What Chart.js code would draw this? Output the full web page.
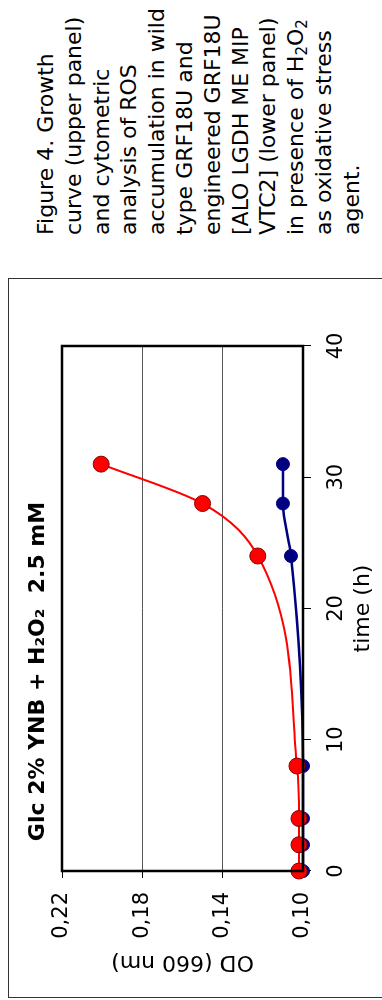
<!DOCTYPE html>
<html>
<head>
<meta charset="utf-8">
<script src="https://cdn.jsdelivr.net/npm/chart.js@4.4.0/dist/chart.umd.min.js"></script>
<style>
  html, body { margin: 0; padding: 0; background: #fff; overflow: hidden; }
  /* la página original está girada 90° a la izquierda */
  #page {
    position: absolute; left: 0; top: 0;
    width: 1000px; height: 382px;
    transform-origin: 0 0;
    transform: translateY(1000px) rotate(-90deg);
  }
  #frame {
    position: absolute; left: 2px; top: 8px;
    width: 720px; height: 390px;
    border: 1px solid #333; box-sizing: border-box;
  }
  #growthChart { position: absolute; left: 0; top: 0; }
  #caption {
    position: absolute; left: 765px; top: 32px;
    font-family: 'DejaVu Sans', sans-serif; font-size: 22px; line-height: 27.8px;
    color: #000; white-space: nowrap;
  }
  #caption sub { font-size: 15px; line-height: 0; vertical-align: -4px; }
</style>
</head>
<body>
<div id="page">
  <div id="frame"><canvas id="growthChart" width="718" height="388"></canvas></div>
  <div id="caption">
    Figure 4. Growth<br>
    curve (upper panel)<br>
    and cytometric<br>
    analysis of ROS<br>
    accumulation in wild<br>
    type GRF18U and<br>
    engineered GRF18U<br>
    [ALO LGDH ME MIP<br>
    VTC2] (lower panel)<br>
    in presence of H<sub>2</sub>O<sub>2</sub><br>
    as oxidative stress<br>
    agent.
  </div>
</div>
<script>
// Datos
const timeHours = [0, 2, 4, 8, 24, 28, 31];
const odRed  = [0.102, 0.102, 0.102, 0.103, 0.1225, 0.150, 0.2005];
const odBlue = [0.100, 0.100, 0.100, 0.100, 0.106, 0.110, 0.110];

const xTickValues = [0, 10, 20, 30, 40];
const xTickLabels = ['0', '10', '20', '30', '40'];
const yTickValues = [0.10, 0.14, 0.18, 0.22];
const yTickLabels = ['0,10', '0,14', '0,18', '0,22'];

const chartTitle = 'Glc 2% YNB + H\u2082O\u2082  2.5 mM';

Chart.defaults.font.family = "'DejaVu Sans', sans-serif";
Chart.defaults.color = '#000';

// marco negro del área de trazado
const plotBorder = {
    id: 'plotBorder',
    afterDraw(chart) {
        const a = chart.chartArea;
        const ctx = chart.ctx;
        ctx.save();
        ctx.strokeStyle = '#000';
        ctx.lineWidth = 2.5;
        ctx.strokeRect(a.left, a.top, a.right - a.left, a.bottom - a.top);
        ctx.restore();
    }
};

const ctx = document.getElementById('growthChart').getContext('2d');
const growthChart = new Chart(ctx, {
    type: 'line',
    data: {
        datasets: [{
            label: 'red',
            data: timeHours.map((t, i) => ({ x: t, y: odRed[i] })),
            borderColor: '#ff0000',
            borderWidth: 2,
            backgroundColor: '#ff0000',
            pointBorderColor: '#8b0000',
            pointBorderWidth: 1,
            pointRadius: 8,
            cubicInterpolationMode: 'monotone',
            clip: false,
            order: 0
        }, {
            label: 'blue',
            data: timeHours.map((t, i) => ({ x: t, y: odBlue[i] })),
            borderColor: '#000080',
            borderWidth: 2.5,
            backgroundColor: '#000080',
            pointBorderColor: '#000080',
            pointBorderWidth: 1,
            pointRadius: 6.5,
            cubicInterpolationMode: 'monotone',
            clip: false,
            order: 1
        }]
    },
    options: {
        responsive: false,
        animation: false,
        layout: { padding: { left: 0, right: 67, top: 0, bottom: 0 } },
        plugins: {
            legend: { display: false },
            tooltip: { enabled: false },
            title: {
                display: true,
                text: chartTitle,
                font: { size: 22, weight: 'bold' },
                padding: { top: 16, bottom: 10.6 }
            }
        },
        scales: {
            x: {
                type: 'linear',
                min: 0, max: 40,
                afterBuildTicks: s => { s.ticks = xTickValues.map(v => ({ value: v })); },
                afterFit: s => { s.height = 94; },
                ticks: {
                    font: { size: 21 },
                    padding: 13,
                    maxRotation: 0,
                    callback: (v, i) => xTickLabels[i]
                },
                grid: { drawOnChartArea: false, tickLength: 8, tickColor: '#000' },
                border: { display: false },
                title: { display: true, text: 'time (h)', font: { size: 22 }, padding: { top: 0, bottom: 21 } }
            },
            y: {
                min: 0.10, max: 0.22,
                afterBuildTicks: s => { s.ticks = yTickValues.map(v => ({ value: v })); },
                afterFit: s => { s.width = 126; },
                ticks: {
                    font: { size: 21 },
                    padding: 14,
                    callback: (v, i) => yTickLabels[i]
                },
                grid: { color: '#555', lineWidth: 1, tickLength: 7, tickColor: '#000' },
                border: { display: false },
                title: { display: true, text: 'OD (660 nm)', font: { size: 22 }, padding: { top: 22, bottom: 0 } }
            }
        }
    },
    plugins: [plotBorder]
});
</script>
</body>
</html>
